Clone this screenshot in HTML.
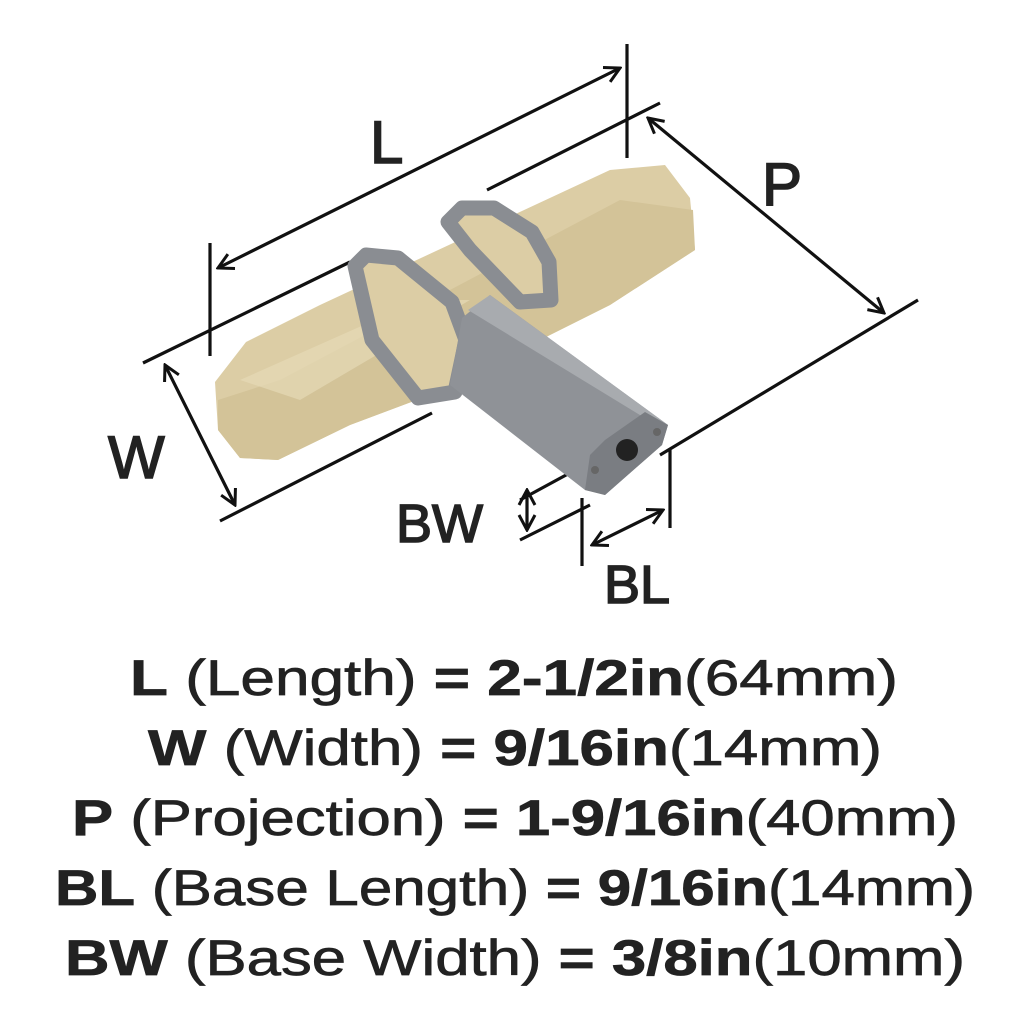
<!DOCTYPE html>
<html><head><style>html,body{margin:0;padding:0;background:#fff}svg{display:block}</style></head>
<body>
<svg width="1024" height="1024" viewBox="0 0 1024 1024" xmlns="http://www.w3.org/2000/svg">
<defs>
<marker id="a" viewBox="0 0 20 20" refX="18" refY="10" markerWidth="20" markerHeight="20" orient="auto-start-reverse" markerUnits="userSpaceOnUse">
<path d="M3,2 L18,10 L3,18" fill="none" stroke="#111" stroke-width="3"/></marker>
</defs>
<g stroke="#111" stroke-width="3.2" fill="none">
<line x1="218" y1="268" x2="620" y2="68" marker-start="url(#a)" marker-end="url(#a)"/>
<line x1="210" y1="243" x2="210" y2="356"/>
<line x1="627" y1="44" x2="627" y2="158"/>
<line x1="648" y1="118" x2="884" y2="313" marker-start="url(#a)" marker-end="url(#a)"/>
<line x1="487" y1="190" x2="660" y2="103"/>
<line x1="660" y1="455" x2="918" y2="300"/>
<line x1="165" y1="365" x2="235" y2="505" marker-start="url(#a)" marker-end="url(#a)"/>
<line x1="143" y1="363" x2="350" y2="262"/>
<line x1="220" y1="521" x2="432" y2="413"/>
<line x1="527" y1="490" x2="527" y2="530" marker-start="url(#a)" marker-end="url(#a)"/>
<line x1="520" y1="500" x2="590" y2="462"/>
<line x1="520" y1="540" x2="590" y2="505"/>
<line x1="592" y1="545" x2="663" y2="510" marker-start="url(#a)" marker-end="url(#a)"/>
<line x1="582" y1="498" x2="582" y2="566"/>
<line x1="670" y1="450" x2="670" y2="528"/>
</g>
<!-- knob body -->
<polygon points="215,382 246,342 320,305 610,170 665,165 690,198 695,250 610,305 430,395 350,425 278,460 240,458 218,430" fill="#dccda5"/>
<polygon points="218,400 280,380 620,200 693,210 695,250 610,305 430,395 350,425 278,460 240,458 218,430" fill="#d3c398"/>
<polygon points="240,380 420,300 470,300 300,400" fill="#e6dab6" opacity=".7"/>
<!-- collars as rings -->
<polygon points="355,266 366,255 398,258 452,302 466,340 455,392 418,398 372,340" fill="#dccda5" stroke="#8a8d92" stroke-width="15" stroke-linejoin="round"/>
<polygon points="448,222 462,208 494,208 532,232 549,262 551,300 520,302 470,250" fill="#dccda5" stroke="#8a8d92" stroke-width="15" stroke-linejoin="round"/>
<!-- stem -->
<polygon points="462,318 490,295 668,425 662,445 605,495 585,490 450,385" fill="#8f9297"/>
<polygon points="490,295 668,425 648,420 468,310" fill="#a8abaf"/>
<polygon points="605,440 645,412 668,425 662,445 605,495 585,490 590,455" fill="#7a7d82"/>
<circle cx="627" cy="450" r="11" fill="#222"/>
<circle cx="595" cy="470" r="4" fill="#666"/><circle cx="657" cy="432" r="4" fill="#666"/>
<g font-family="Liberation Sans, sans-serif" fill="#222" stroke="#222">
<text x="370" y="163" font-size="60" stroke-width="1.6">L</text>
<text x="762" y="205" font-size="60" stroke-width="1.6">P</text>
<text x="108" y="478" font-size="60" stroke-width="1.6">W</text>
<text x="396" y="542" font-size="54" stroke-width="1.6">BW</text>
<text x="604" y="603" font-size="54" stroke-width="1.6">BL</text>
<g font-size="50" stroke-width="0.7">
<text x="130" y="695" textLength="768" lengthAdjust="spacingAndGlyphs"><tspan font-weight="bold">L</tspan> (Length) <tspan font-weight="bold">= 2-1/2in</tspan>(64mm)</text>
<text x="148" y="765" textLength="734" lengthAdjust="spacingAndGlyphs"><tspan font-weight="bold">W</tspan> (Width) <tspan font-weight="bold">= 9/16in</tspan>(14mm)</text>
<text x="72" y="835" textLength="886" lengthAdjust="spacingAndGlyphs"><tspan font-weight="bold">P</tspan> (Projection) <tspan font-weight="bold">= 1-9/16in</tspan>(40mm)</text>
<text x="55" y="905" textLength="920" lengthAdjust="spacingAndGlyphs"><tspan font-weight="bold">BL</tspan> (Base Length) <tspan font-weight="bold">= 9/16in</tspan>(14mm)</text>
<text x="65" y="975" textLength="900" lengthAdjust="spacingAndGlyphs"><tspan font-weight="bold">BW</tspan> (Base Width) <tspan font-weight="bold">= 3/8in</tspan>(10mm)</text>
</g></g>
</svg>
</body></html>
